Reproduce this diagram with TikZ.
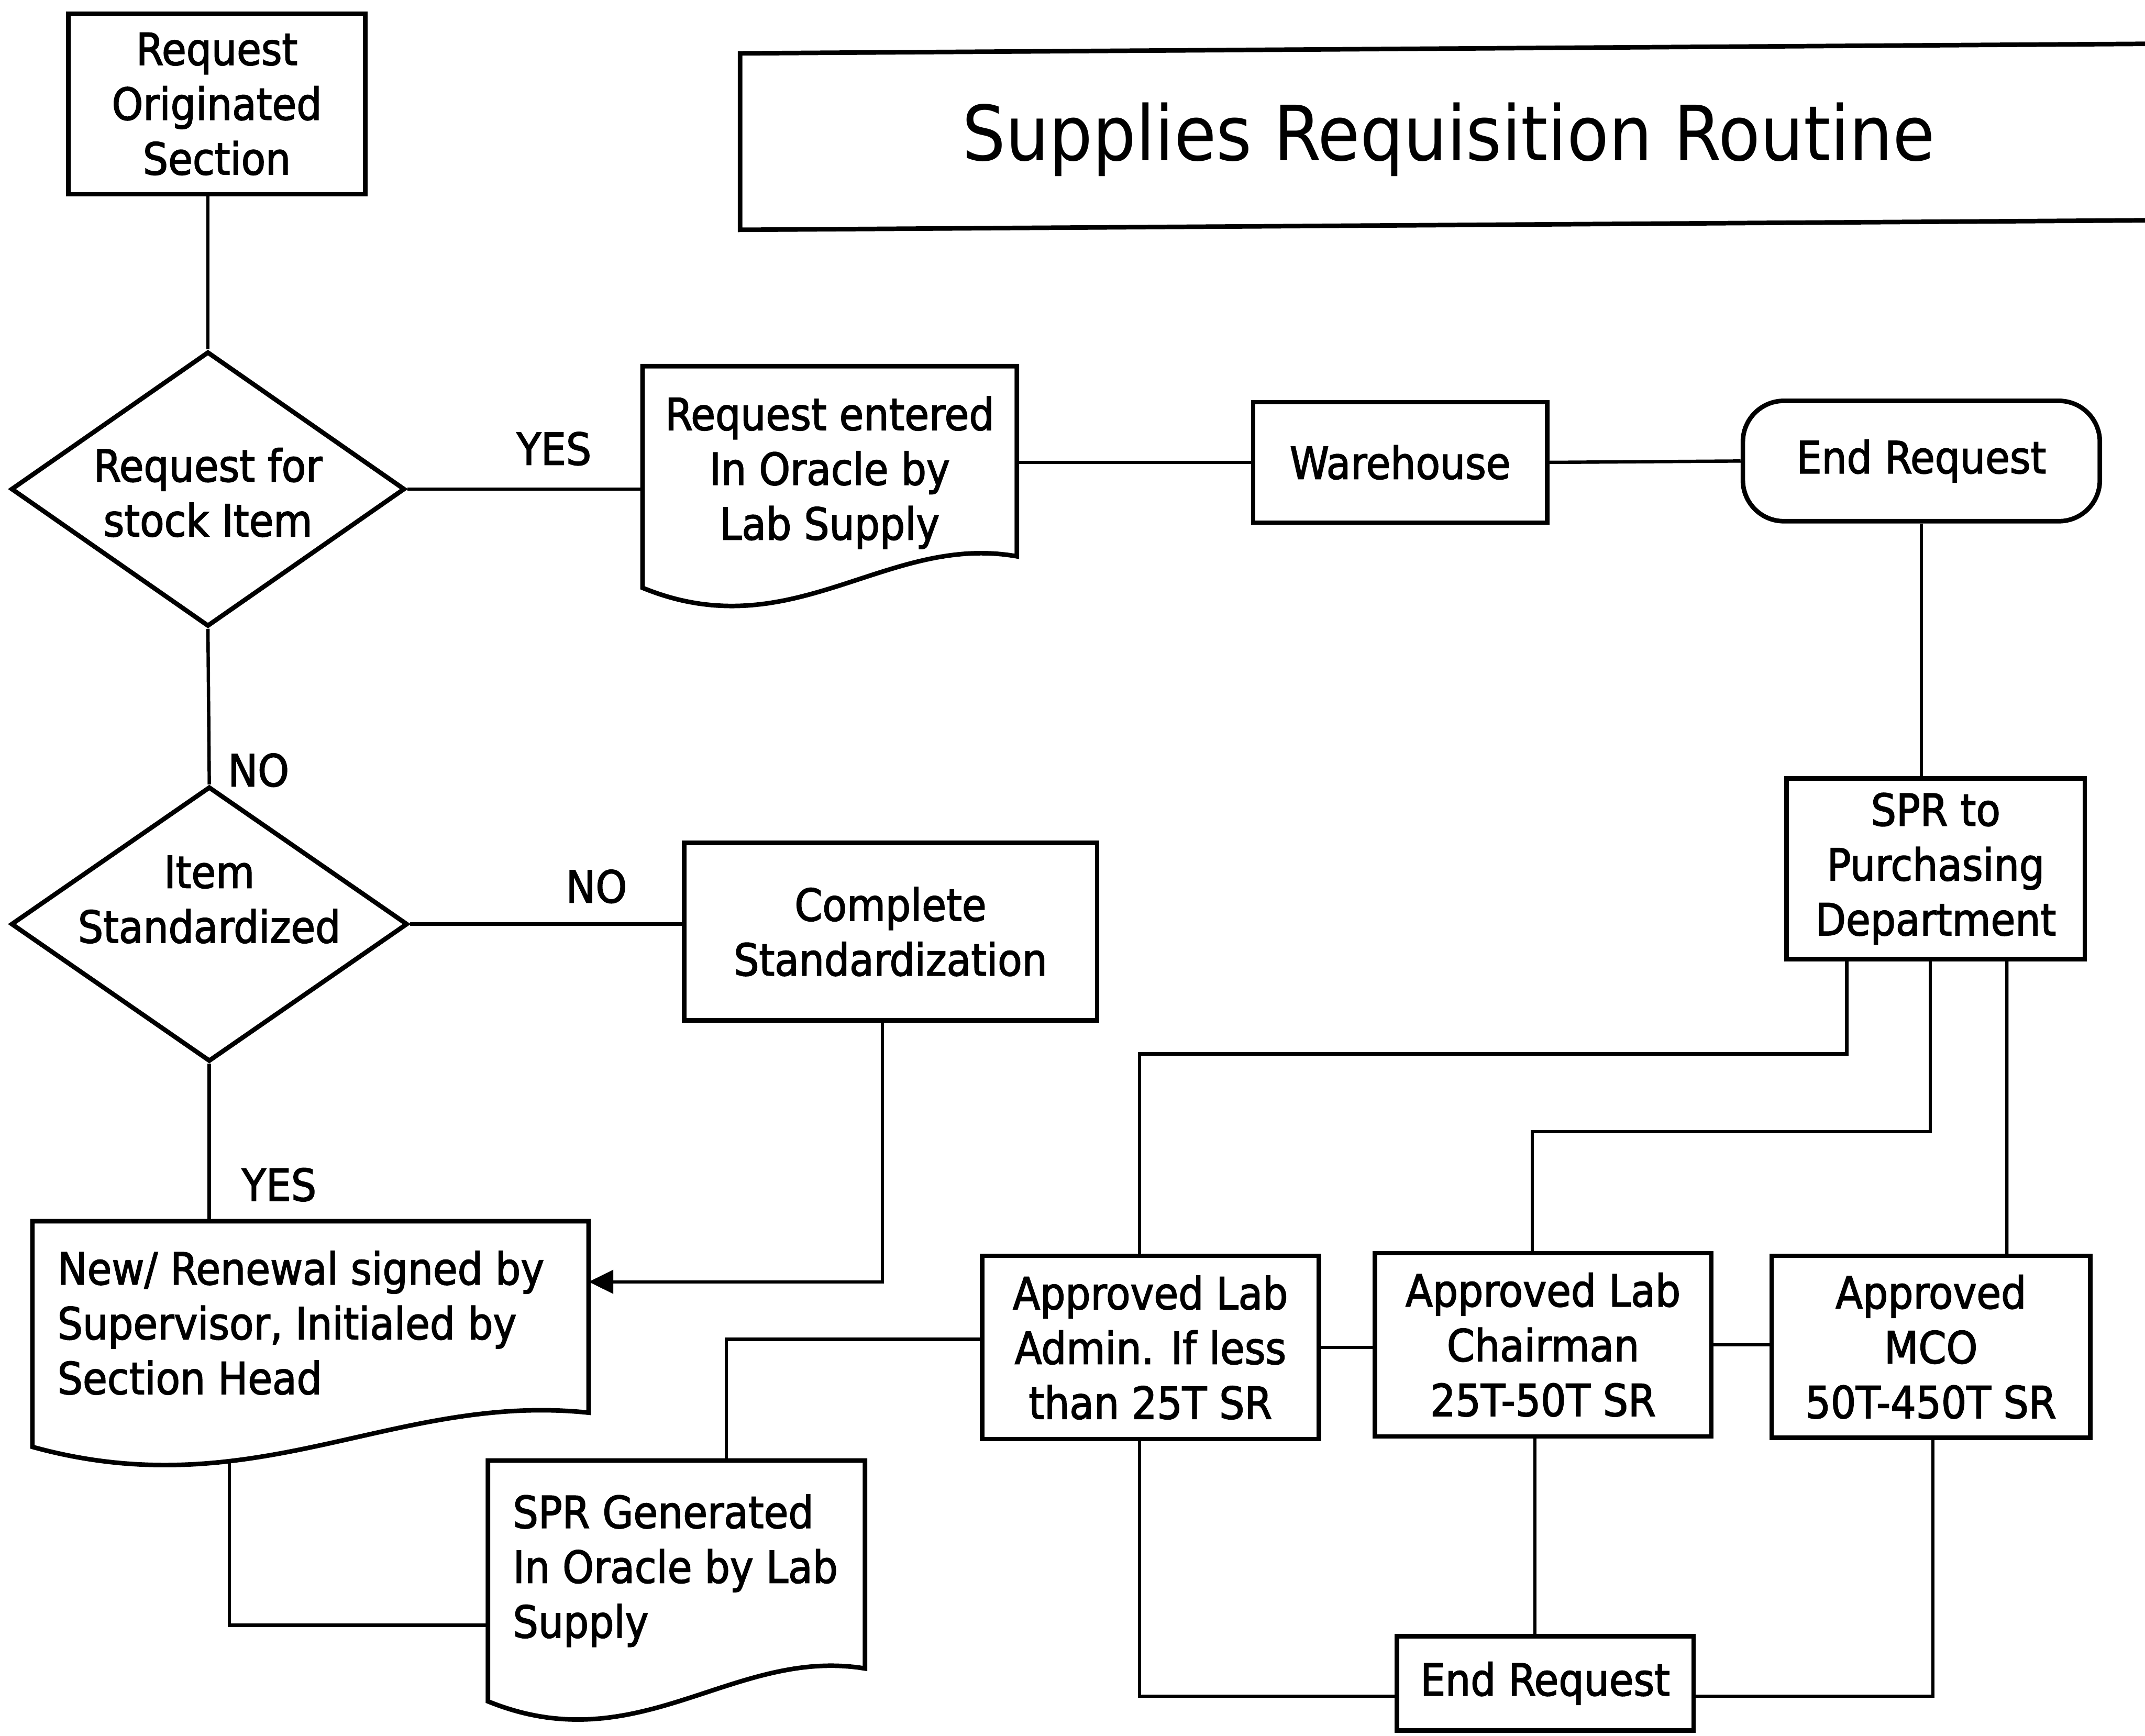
\documentclass[tikz,border=0pt]{standalone}
\usepackage{fontspec}
\setmainfont{DejaVu Sans Condensed}
\newfontfamily\flowfamily{DejaVu Sans Condensed}[FakeBold=2]
\usetikzlibrary{shapes.geometric,arrows.meta,calc}
\pgfdeclarelayer{paper}
\pgfdeclarelayer{lines}
\pgfdeclarelayer{shapes}
\pgfsetlayers{paper,lines,shapes,main}
\newcommand\flowfont{\flowfamily\fontsize{18.4}{22.8}\selectfont}
\newcommand\titlefont{\fontsize{31.7}{38}\selectfont}
% document symbol: flat top, wavy bottom; #2 = drop of left side, #3 = drop of right side
\newcommand\docoutline[3]{%
  \draw[boxline, fill=white] (#1.north west) -- (#1.north east)
    -- ($(#1.north east)+(0,#3)$)
    .. controls ($(#1.north west)!0.65!(#1.north east)+(0,#2-40)$)
            and ($(#1.north west)!0.4!(#1.north east)+(0,#2+45)$)
    .. ($(#1.north west)+(0,#2)$) -- cycle;}

\begin{document}
\begin{tikzpicture}[x=0.02cm, y=-0.02cm,
  boxline/.style={line width=1.9pt, line join=miter},
  conn/.style={line width=1.4pt},
  procbox/.style={draw, boxline, fill=white, inner sep=0pt, align=center, font=\flowfont},
  terminal/.style={procbox, rounded corners=0.6cm},
  decision/.style={diamond, draw, boxline, fill=white, inner sep=0pt},
  doctext/.style={inner sep=0pt, font=\flowfont},
  txt/.style={inner sep=0pt, align=center, font=\flowfont},
  flowarrow/.style={conn, -{Triangle[length=0.36cm,width=0.34cm]}},
]
\useasboundingbox (0,0) rectangle (1568,1269);
\begin{pgfonlayer}{paper}
\fill[white] (0,0) rectangle (1568,1269);
\end{pgfonlayer}

% title block
\node[inner sep=0pt, font=\titlefont] (title) at (1059,102) {Supplies Requisition Routine};
\draw[boxline] (1575,32) -- (541,39) -- (541,168) -- (1575,161);

% left column
\node[procbox, minimum width=4.34cm, minimum height=2.64cm] (orig) at (158.5,76) {Request\\Originated\\Section};
\node[decision, minimum width=5.76cm, minimum height=4.02cm] (d1) at (152,357.5) {};
\node[txt] (d1t) at (152,360) {Request for\\stock Item};
\node[decision, minimum width=5.8cm, minimum height=4.02cm] (d2) at (153,675.5) {};
\node[txt] (d2t) at (153,657.5) {Item\\Standardized};
\node[doctext, minimum width=8.12cm, minimum height=3.12cm] (newren) at (227,971)
  {\makebox[7.4cm][l]{\begin{tabular}{@{}l@{}}New/ Renewal signed by\\Supervisor, Initialed by\\Section Head\end{tabular}}};
\node[doctext, minimum width=5.5cm, minimum height=3.24cm] (sprgen) at (494.5,1149)
  {\makebox[4.78cm][l]{\begin{tabular}{@{}l@{}}SPR Generated\\In Oracle by Lab\\Supply\end{tabular}}};

% top row
\node[doctext, align=center, minimum width=5.46cm, minimum height=3.1cm] (entered) at (606.5,345.5)
  {Request entered\\In Oracle by\\Lab Supply};
\node[procbox, minimum width=4.3cm, minimum height=1.76cm] (warehouse) at (1023.5,338) {Warehouse};
\node[terminal, minimum width=5.22cm, minimum height=1.76cm] (end1) at (1404.5,337) {End Request};

% middle and right
\node[procbox, minimum width=6.04cm, minimum height=2.6cm] (std) at (651,681) {Complete\\Standardization};
\node[procbox, minimum width=4.36cm, minimum height=2.64cm] (spr) at (1415,635) {SPR to\\Purchasing\\Department};
\node[procbox, minimum width=4.92cm, minimum height=2.68cm] (adm) at (841,985) {Approved Lab\\Admin. If less\\than 25T SR};
\node[procbox, minimum width=4.92cm, minimum height=2.68cm] (chair) at (1128,983) {Approved Lab\\Chairman\\25T-50T SR};
\node[procbox, minimum width=4.66cm, minimum height=2.66cm] (mco) at (1411.5,984.5) {Approved\\MCO\\50T-450T SR};
\node[procbox, minimum width=4.34cm, minimum height=1.38cm] (end2) at (1129.5,1230.5) {End Request};

% branch labels
\node[txt] (yes1) at (405,328) {YES};
\node[txt] (no1) at (189,563) {NO};
\node[txt] (no2) at (436,648) {NO};
\node[txt] (yes2) at (204,866) {YES};

% document outlines
\begin{pgfonlayer}{shapes}
\docoutline{entered}{162}{139}
\docoutline{newren}{165}{140}
\docoutline{sprgen}{176}{152}
\end{pgfonlayer}

% connectors
\begin{pgfonlayer}{lines}
\draw[conn] (d1.north |- orig.south) -- (d1.north);
\draw[conn] (d1.east) -- (d1.east -| entered.west);
\draw[conn] (entered.east |- warehouse.west) -- (warehouse.west);
\draw[conn] (warehouse.east) -- (end1.west);
\draw[conn] (end1.south) -- (end1.south |- spr.north);
\draw[conn] (d1.south) -- (d2.north);
\draw[conn] (d2.east) -- (d2.east -| std.west);
\draw[conn] (d2.south) -- (d2.south |- newren.north);
\draw[flowarrow] ($(std.south)+(-6,0)$) |- ($(newren.east)+(0,-34)$);
\draw[conn] ($(newren.south west)+(144,0)$) |- ($(sprgen.west)+(0,39)$);
\draw[conn] ($(sprgen.north)+(36.5,0)$) |- ($(adm.west)+(0,-6)$);
\draw[conn] ($(spr.south)+(-65,0)$) |- ($(adm.north)+(-8,-146)$) -- ($(adm.north)+(-8,0)$);
\draw[conn] ($(spr.south)+(-4,0)$) |- ($(chair.north)+(-8,-87)$) -- ($(chair.north)+(-8,0)$);
\draw[conn] ($(spr.south)+(52,0)$) -- ($(mco.north)+(55.5,0)$);
\draw[conn] (adm.east) -- (adm.east -| chair.west);
\draw[conn] (chair.east) -- (chair.east -| mco.west);
\draw[conn] ($(adm.south)+(-8,0)$) |- ($(end2.west)+(0,9.5)$);
\draw[conn] ($(chair.south)+(-6,0)$) -- ($(end2.north)+(-7.5,0)$);
\draw[conn] ($(mco.south)+(1.5,0)$) |- ($(end2.east)+(0,9.5)$);
\end{pgfonlayer}
\end{tikzpicture}
\end{document}
